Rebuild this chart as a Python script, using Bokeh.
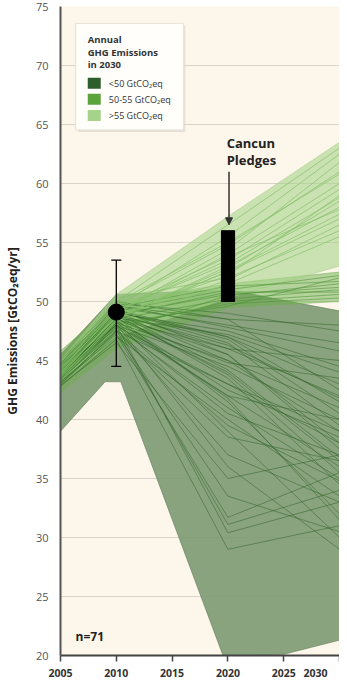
from bokeh.plotting import figure
from bokeh.models import (FixedTicker, Label, Arrow, NormalHead, Range1d)
from bokeh.embed import file_html
from bokeh.resources import INLINE

# ---------------- data ----------------
years = [2005, 2010, 2020, 2030]

# scenario lines grouped by 2030 emissions level (GtCO2eq/yr)
lines_low = [
    [44.0, 48.5, 46.0, 42.0], [43.5, 48.0, 44.5, 40.0], [44.5, 49.0, 47.5, 44.5],
    [43.0, 47.5, 43.0, 38.0], [44.0, 48.8, 45.5, 37.5], [43.8, 49.2, 46.5, 39.5],
    [44.2, 48.0, 42.0, 36.0], [43.5, 47.8, 41.0, 35.0], [44.8, 49.5, 48.0, 46.5],
    [43.2, 47.0, 40.0, 33.5], [44.0, 48.6, 44.0, 36.5], [44.5, 49.3, 47.0, 43.0],
    [43.6, 48.2, 45.0, 41.0], [44.1, 48.9, 43.5, 34.5], [43.9, 48.4, 42.5, 38.5],
    [44.3, 49.6, 48.5, 48.0], [43.0, 47.2, 31.7, 35.5], [43.4, 47.6, 31.1, 34.0],
    [43.7, 48.0, 30.4, 33.0], [42.8, 46.8, 29.0, 31.0], [44.6, 49.0, 46.0, 45.0],
    [43.3, 47.9, 43.0, 39.0], [44.4, 48.7, 41.5, 32.0], [43.8, 48.3, 39.0, 30.0],
    [44.0, 49.1, 47.0, 41.5], [45.0, 49.8, 49.0, 47.5], [43.1, 47.4, 38.5, 36.5],
    [44.7, 49.4, 45.5, 38.0], [43.6, 48.1, 36.0, 29.0], [44.2, 48.5, 44.8, 43.5],
    [43.9, 47.7, 37.0, 33.0], [44.5, 49.2, 46.8, 40.5], [42.9, 46.5, 35.0, 37.0],
    [44.0, 48.0, 40.5, 37.0], [44.3, 48.8, 43.8, 35.5], [43.5, 48.6, 47.2, 44.0],
    [44.8, 50.0, 48.5, 42.5], [43.2, 47.3, 33.5, 30.5], [44.1, 48.2, 42.0, 40.0],
    [43.7, 49.0, 45.0, 39.0], [44.4, 48.9, 46.3, 41.8], [43.4, 47.5, 39.5, 34.8],
    [44.6, 49.7, 47.8, 45.8], [43.8, 48.4, 41.8, 31.5], [44.2, 49.0, 44.2, 36.8],
]
lines_mid = [
    [44.0, 48.5, 50.2, 51.0], [43.5, 48.0, 49.8, 50.3], [44.5, 49.2, 51.0, 52.2],
    [43.0, 47.5, 50.5, 51.5], [44.2, 48.8, 50.8, 50.8], [43.8, 48.2, 49.6, 52.0],
    [44.8, 49.5, 51.3, 51.7], [43.3, 47.8, 50.0, 50.6], [44.3, 48.9, 50.6, 51.2],
]
lines_high = [
    [44.5, 49.5, 55.5, 62.5], [44.0, 49.0, 54.0, 60.0], [43.5, 48.5, 53.0, 58.0],
    [44.8, 50.0, 56.5, 63.0], [43.8, 48.8, 52.5, 57.0], [44.2, 49.2, 53.5, 59.5],
    [45.0, 50.3, 52.0, 56.0], [43.3, 48.3, 51.5, 55.5], [44.6, 49.7, 54.8, 61.0],
    [44.0, 48.6, 52.8, 58.5], [44.4, 49.4, 53.8, 57.8], [43.7, 48.9, 52.2, 59.0],
    [44.9, 49.9, 55.0, 60.8], [43.9, 48.7, 51.8, 56.5], [44.3, 49.1, 54.4, 61.8],
    [44.1, 49.3, 53.2, 58.8], [43.6, 48.4, 52.6, 57.4],
]

# envelope ranges of each group
low_x = [2005, 2010, 2020, 2030, 2030, 2025, 2019.6, 2010.4, 2009, 2005]
low_y = [45.5, 50.6, 51.0, 49.2, 21.3, 20.1, 19.9, 43.2, 43.2, 39.0]
mid_x = [2005, 2010, 2020, 2030, 2030, 2020, 2010, 2005]
mid_y = [45.8, 50.0, 51.5, 52.5, 50.0, 49.5, 46.0, 42.3]
high_x = [2005, 2010, 2020, 2030, 2030, 2020, 2010, 2005]
high_y = [45.0, 50.6, 57.2, 63.5, 53.0, 50.3, 47.0, 43.0]

# observed 2010 emissions with uncertainty
hist_year = 2010
hist_value = 49.1
hist_low, hist_high = 44.5, 53.5

# Cancun pledges range for 2020
cancun_year = 2020
cancun_low, cancun_high = 50.0, 56.0

x_ticks = [2005, 2010, 2015, 2020, 2025, 2030]
y_ticks = [20, 25, 30, 35, 40, 45, 50, 55, 60, 65, 70, 75]

legend_labels = ["<50 GtCO\u2082eq", "50-55 GtCO\u2082eq", ">55 GtCO\u2082eq"]
legend_colors = ["#2e5e2b", "#5ba33b", "#a6d38a"]
n_scenarios = "n=71"

# ---------------- figure ----------------
FONT = "Open Sans"
W, H = 339, 682
BL, BR, BT, BB = 55, 0, 6, 22

p = figure(width=W, height=H, output_backend="svg", toolbar_location=None,
           x_range=Range1d(2005, 2030), y_range=Range1d(20, 75),
           min_border_left=BL, min_border_right=BR, min_border_top=BT,
           min_border_bottom=BB)
p.background_fill_color = "#fdf6ea"
p.border_fill_color = "white"
p.outline_line_color = None

p.xgrid.grid_line_color = None
p.ygrid.grid_line_color = "#d9d3c9"
p.ygrid.grid_line_width = 1

p.xaxis.ticker = FixedTicker(ticks=x_ticks)
p.yaxis.ticker = FixedTicker(ticks=y_ticks)
# the last tick sits on the canvas edge: pad its label with figure spaces
# so that the digits themselves stay inside the canvas
p.xaxis.major_label_overrides = {x_ticks[-1]: str(x_ticks[-1]) + "\u2007" * 2}
p.xaxis.minor_tick_line_color = None
p.yaxis.minor_tick_line_color = None
p.xaxis.axis_line_color = "#444444"
p.xaxis.axis_line_width = 2
p.yaxis.axis_line_color = "#555555"
p.yaxis.axis_line_width = 2
p.xaxis.major_tick_line_color = "#444444"
p.xaxis.major_tick_line_width = 1.5
p.xaxis.major_tick_out = 6
p.xaxis.major_tick_in = 0
p.yaxis.major_tick_out = 0
p.yaxis.major_tick_in = 0
p.xaxis.major_label_text_font = FONT
p.xaxis.major_label_text_font_size = "10.5px"
p.xaxis.major_label_text_font_style = "bold"
p.xaxis.major_label_text_color = "#333333"
p.xaxis.major_label_standoff = 4
p.yaxis.major_label_text_font = FONT
p.yaxis.major_label_text_font_size = "11px"
p.yaxis.major_label_text_color = "#555555"
p.yaxis.major_label_standoff = 12
p.yaxis.axis_label = "GHG Emissions [GtCO\u2082eq/yr]"
p.yaxis.axis_label_text_font = FONT
p.yaxis.axis_label_text_font_size = "12px"
p.yaxis.axis_label_text_font_style = "bold"
p.yaxis.axis_label_text_color = "#222222"
p.yaxis.axis_label_standoff = 12

# picture-pixel -> data helpers for annotation placement
FX0, FX1 = 62.0, 339.0
FY0, FY1 = 8.0, 660.0


def px_x(px):
    return 2005 + (px - FX0) * 25 / (FX1 - FX0)


def px_y(py):
    return 75 - (py - FY0) * 55 / (FY1 - FY0)


# envelopes
p.patch(low_x, low_y, fill_color="#7d9a73", fill_alpha=0.9,
        line_color="#5c7a55", line_width=0.6)
p.patch(mid_x, mid_y, fill_color="#6cae4c", fill_alpha=0.5,
        line_color="#6cae4c", line_width=0.5)
p.patch(high_x, high_y, fill_color="#a9d68c", fill_alpha=0.6,
        line_color="#9ccc7e", line_width=0.5)

# scenario lines
p.multi_line([years] * len(lines_low), lines_low, line_color="#2f6429",
             line_width=0.7, line_alpha=0.75)
p.multi_line([years] * len(lines_mid), lines_mid, line_color="#4a9233",
             line_width=0.7, line_alpha=0.8)
p.multi_line([years] * len(lines_high), lines_high, line_color="#86c06a",
             line_width=0.8, line_alpha=0.9)

# historical point with error bar
p.segment(x0=[hist_year], y0=[hist_low], x1=[hist_year], y1=[hist_high],
          line_color="black", line_width=1.3)
p.segment(x0=[hist_year - 0.45, hist_year - 0.45], y0=[hist_low, hist_high],
          x1=[hist_year + 0.45, hist_year + 0.45], y1=[hist_low, hist_high],
          line_color="black", line_width=1.3)
p.scatter([hist_year], [hist_value], size=16, color="black")

# Cancun pledges bar
p.quad(left=[cancun_year - 0.58], right=[cancun_year + 0.6],
       bottom=[cancun_low], top=[cancun_high], fill_color="black",
       line_color="black")
p.add_layout(Arrow(end=NormalHead(size=7, fill_color="#333333",
                                  line_color="#333333"),
                   x_start=cancun_year + 0.1, y_start=px_y(174),
                   x_end=cancun_year + 0.1, y_end=cancun_high + 0.5,
                   line_color="#333333", line_width=1.5))
p.add_layout(Label(x=px_x(227), y=px_y(145), text="Cancun",
                   text_font=FONT, text_font_size="13px",
                   text_font_style="bold", text_color="#222222",
                   text_baseline="middle"))
p.add_layout(Label(x=px_x(227), y=px_y(162), text="Pledges",
                   text_font=FONT, text_font_size="13px",
                   text_font_style="bold", text_color="#222222",
                   text_baseline="middle"))

# legend box
p.quad(left=[px_x(79)], right=[px_x(186)], top=[px_y(27)],
       bottom=[px_y(134)], fill_color="#d8d4cc", line_color=None,
       fill_alpha=0.6)
p.quad(left=[px_x(77)], right=[px_x(184)], top=[px_y(25)],
       bottom=[px_y(132)], fill_color="#fffefb", line_color="#e6e1d8")
for i, t in enumerate(["Annual", "GHG Emissions", "in 2030"]):
    p.add_layout(Label(x=px_x(89), y=px_y(41 + 12.8 * i), text=t,
                       text_font=FONT, text_font_size="9.5px",
                       text_font_style="bold", text_color="#333333",
                       text_baseline="middle"))
for i, (lab, col) in enumerate(zip(legend_labels, legend_colors)):
    yy = px_y(85 + 16.3 * i)
    p.rect(x=[px_x(95.5)], y=[yy], width=13, height=11, width_units="screen",
           height_units="screen", fill_color=col, line_color=None)
    p.add_layout(Label(x=px_x(110), y=yy, text=lab, text_font=FONT,
                       text_font_size="9px", text_color="#333333",
                       text_baseline="middle"))

p.add_layout(Label(x=px_x(77), y=px_y(641), text=n_scenarios, text_font=FONT,
                   text_font_size="12px", text_font_style="bold",
                   text_color="#222222", text_baseline="middle"))

open("out.html", "w").write(file_html(p, INLINE))
